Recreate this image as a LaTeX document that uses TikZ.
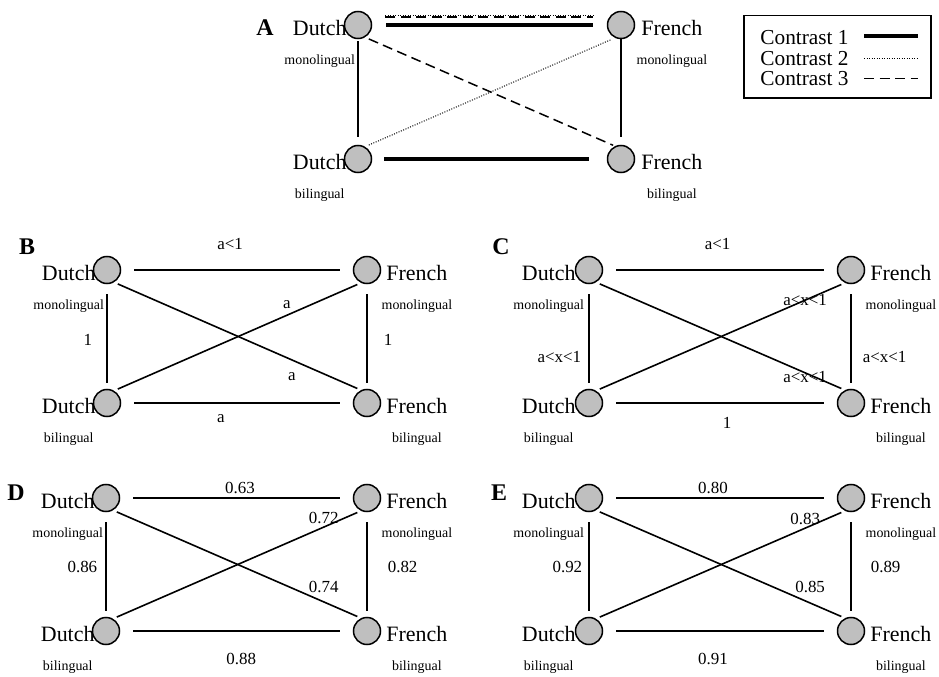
\documentclass[tikz,border=0pt]{standalone}
\usepackage{fontspec}
\setmainfont{Liberation Serif}
\usetikzlibrary{positioning}
\tikzset{
    % group circle
    grp/.style={
        circle, draw=black, line width=0.75bp,
        fill=black!25,
        minimum size=13.5bp,
        inner sep=0pt,
    },
    % Dutch / French
    langlabel/.style={
        font=\fontsize{11}{13}\selectfont,
        inner sep=0pt,
    },
    % monolingual / bilingual
    grouplabel/.style={
        font=\fontsize{7}{8}\selectfont,
        inner sep=0pt,
    },
    % values on the links
    weightlabel/.style={
        font=\fontsize{8.5}{10}\selectfont,
        inner sep=0pt,
    },
    % panel letter
    panellabel/.style={
        font=\fontsize{12}{14}\selectfont\bfseries,
        inner sep=0pt,
    },
    % links between groups
    link/.style={line width=0.8bp},
    hlink/.style={link, shorten <=6.5bp, shorten >=6.5bp},
    vlink/.style={link, shorten <=5bp, shorten >=3bp},
    dlink/.style={link, shorten <=2bp, shorten >=2bp},
    % contrasts (panel A)
    contrastone/.style={line width=2bp},
    contrasttwo/.style={line width=0.5bp, dash pattern=on 0.5bp off 0.75bp},
    contrastthree/.style={line width=0.75bp, dash pattern=on 5bp off 2.75bp},
    legendtext/.style={
        font=\fontsize{10.7}{12}\selectfont,
        inner sep=0pt,
    },
}

\begin{document}
\begin{tikzpicture}[x=0.5bp, y=-0.5bp]
\useasboundingbox (0,0) rectangle (939,677);

% =========================================================================
% PANEL A (contrasts)
% =========================================================================
\node[panellabel] (labA) at (265,28) {A};
\node[grp] (dmA) at (358,25) {};
\node[grp] (fmA) at (621,25) {};
\node[grp] (dbA) at (358,159) {};
\node[grp] (fbA) at (621,159) {};
\node[langlabel, left=0.5bp of dmA.south west, anchor=base east] (dmAt) {Dutch};
\node[langlabel, right=5bp of fmA.south east, anchor=base west] (fmAt) {French};
\node[langlabel, left=0.5bp of dbA.south west, anchor=base east] (dbAt) {Dutch};
\node[langlabel, right=5bp of fbA.south east, anchor=base west] (fbAt) {French};
\node[grouplabel, below=9.5bp of dmAt] {monolingual};
\node[grouplabel, below=9.5bp of fmAt] {monolingual};
\node[grouplabel, below=9.5bp of dbAt] {bilingual};
\node[grouplabel, below=9.5bp of fbAt] {bilingual};

\draw[link, shorten <=1bp, shorten >=4bp] (dmA) -- (dbA);
\draw[link, shorten >=4bp] (fmA) -- (fbA);
\draw[contrastthree, shorten <=2bp, shorten >=1bp] (dmA.-60) -- (fbA.115);
\draw[contrasttwo, shorten <=2bp, shorten >=2bp] (dbA.60) -- (fmA.245);

% Contrast 1 twice, contrast 2 and 3 on top
\draw[contrastone, shorten <=7bp, shorten >=7bp] (dmA) -- (fmA);
\draw[contrasttwo, shorten <=6.5bp, shorten >=6.5bp] ([yshift=4.7bp]dmA.east) -- ([yshift=4.7bp]fmA.west);
\draw[contrastthree, shorten <=6.5bp, shorten >=7bp] ([yshift=3.9bp]dmA.east) -- ([yshift=3.9bp]fmA.west);
\draw[contrastone, shorten <=6bp, shorten >=9bp] (dbA) -- (fbA);

% --- Legend ---
\node[draw, line width=0.75bp, minimum width=93.5bp, minimum height=41bp,
      anchor=north west, inner sep=0pt] (legend) at (743,15) {};
\node[legendtext, anchor=west] (con1) at (760,38) {Contrast 1};
\node[legendtext, below=2.6bp of con1] (con2) {Contrast 2};
\node[legendtext, below=2.6bp of con2] (con3) {Contrast 3};
\draw[contrastone] ([xshift=7.5bp, yshift=1bp]con1.east) -- ++(27bp,0);
\draw[contrasttwo] ([xshift=7.5bp]con2.east) -- ++(27bp,0);
\draw[contrastthree] ([xshift=7.5bp]con3.east) -- ++(27bp,0);

% =========================================================================
% PANEL B
% =========================================================================
\node[panellabel] (labB) at (27,247) {B};
\node[grp] (dmB) at (107,270) {};
\node[grp] (fmB) at (367,270) {};
\node[grp] (dbB) at (107,403) {};
\node[grp] (fbB) at (367,403) {};
\node[langlabel, left=0.5bp of dmB.south west, anchor=base east] (dmBt) {Dutch};
\node[langlabel, right=4.5bp of fmB.south east, anchor=base west] (fmBt) {French};
\node[langlabel, left=0.5bp of dbB.south west, anchor=base east] (dbBt) {Dutch};
\node[langlabel, right=4.5bp of fbB.south east, anchor=base west] (fbBt) {French};
\node[grouplabel, below=9.5bp of dmBt] {monolingual};
\node[grouplabel, below=9.5bp of fmBt] {monolingual};
\node[grouplabel, below=9.5bp of dbBt] {bilingual};
\node[grouplabel, below=9.5bp of fbBt] {bilingual};

\draw[hlink] (dmB) -- node[weightlabel, pos=0.47, above=10bp] {a<1} (fmB);
\draw[vlink] (dmB) -- node[weightlabel, pos=0.53, left=7bp] {1} (dbB);
\draw[vlink] (fmB) -- node[weightlabel, pos=0.53, right=8bp] {1} (fbB);
\draw[dlink] (dbB.60) -- node[weightlabel, pos=0.70, above=3bp] {a} (fmB.245);
\draw[dlink] (dmB.-60) -- node[weightlabel, pos=0.72, below=6bp] {a} (fbB.115);
\draw[hlink] (dbB) -- node[weightlabel, pos=0.43, below=5.5bp] {a} (fbB);

% =========================================================================
% PANEL C
% =========================================================================
\node[panellabel] (labC) at (501,247) {C};
\node[grp] (dmC) at (589,270) {};
\node[grp] (fmC) at (851,270) {};
\node[grp] (dbC) at (589,403) {};
\node[grp] (fbC) at (851,403) {};
\node[langlabel, left=1.5bp of dmC.south west, anchor=base east] (dmCt) {Dutch};
\node[langlabel, right=4.5bp of fmC.south east, anchor=base west] (fmCt) {French};
\node[langlabel, left=1.5bp of dbC.south west, anchor=base east] (dbCt) {Dutch};
\node[langlabel, right=4.5bp of fbC.south east, anchor=base west] (fbCt) {French};
\node[grouplabel, below=9.5bp of dmCt] {monolingual};
\node[grouplabel, below=9.5bp of fmCt] {monolingual};
\node[grouplabel, below=9.5bp of dbCt] {bilingual};
\node[grouplabel, below=9.5bp of fbCt] {bilingual};

\draw[hlink] (dmC) -- node[weightlabel, pos=0.49, above=10bp] {a<1} (fmC);
\draw[vlink] (dmC) -- node[weightlabel, pos=0.70, left=3.5bp] {a<x<1} (dbC);
\draw[vlink] (fmC) -- node[weightlabel, pos=0.70, right=5.5bp] {a<x<1} (fbC);
\draw[dlink] (dbC.60) -- node[weightlabel, pos=0.84] {a<x<1} (fmC.245);
\draw[dlink] (dmC.-60) -- node[weightlabel, pos=0.84, yshift=-2bp] {a<x<1} (fbC.115);
\draw[hlink] (dbC) -- node[weightlabel, pos=0.53, below=7bp] {1} (fbC);

% =========================================================================
% PANEL D
% =========================================================================
\node[panellabel] (labD) at (16,493) {D};
\node[grp] (dmD) at (106,498) {};
\node[grp] (fmD) at (367,498) {};
\node[grp] (dbD) at (106,631) {};
\node[grp] (fbD) at (367,631) {};
\node[langlabel, left=0.5bp of dmD.south west, anchor=base east] (dmDt) {Dutch};
\node[langlabel, right=4.5bp of fmD.south east, anchor=base west] (fmDt) {French};
\node[langlabel, left=0.5bp of dbD.south west, anchor=base east] (dbDt) {Dutch};
\node[langlabel, right=4.5bp of fbD.south east, anchor=base west] (fbDt) {French};
\node[grouplabel, below=9.5bp of dmDt] {monolingual};
\node[grouplabel, below=9.5bp of fmDt] {monolingual};
\node[grouplabel, below=9.5bp of dbDt] {bilingual};
\node[grouplabel, below=9.5bp of fbDt] {bilingual};

\draw[hlink] (dmD) -- node[weightlabel, pos=0.515, above=1.5bp] {0.63} (fmD);
\draw[vlink] (dmD) -- node[weightlabel, pos=0.52, left=4bp] {0.86} (dbD);
\draw[vlink] (fmD) -- node[weightlabel, pos=0.52, right=10bp] {0.82} (fbD);
\draw[dlink] (dbD.60) -- node[weightlabel, pos=0.85, above=1.5bp] {0.72} (fmD.245);
\draw[dlink] (dmD.-60) -- node[weightlabel, pos=0.85, above=4bp] {0.74} (fbD.115);
\draw[hlink] (dbD) -- node[weightlabel, pos=0.52, below=10.5bp] {0.88} (fbD);

% =========================================================================
% PANEL E
% =========================================================================
\node[panellabel] (labE) at (499,493) {E};
\node[grp] (dmE) at (589,498) {};
\node[grp] (fmE) at (851,498) {};
\node[grp] (dbE) at (589,631) {};
\node[grp] (fbE) at (851,631) {};
\node[langlabel, left=1.5bp of dmE.south west, anchor=base east] (dmEt) {Dutch};
\node[langlabel, right=4.5bp of fmE.south east, anchor=base west] (fmEt) {French};
\node[langlabel, left=1.5bp of dbE.south west, anchor=base east] (dbEt) {Dutch};
\node[langlabel, right=4.5bp of fbE.south east, anchor=base west] (fbEt) {French};
\node[grouplabel, below=9.5bp of dmEt] {monolingual};
\node[grouplabel, below=9.5bp of fmEt] {monolingual};
\node[grouplabel, below=9.5bp of dbEt] {bilingual};
\node[grouplabel, below=9.5bp of fbEt] {bilingual};

\draw[hlink] (dmE) -- node[weightlabel, pos=0.47, above=1.5bp] {0.80} (fmE);
\draw[vlink] (dmE) -- node[weightlabel, pos=0.52, left=3bp] {0.92} (dbE);
\draw[vlink] (fmE) -- node[weightlabel, pos=0.52, right=9.5bp] {0.89} (fbE);
\draw[dlink] (dbE.60) -- node[weightlabel, pos=0.84, above=1.5bp] {0.83} (fmE.245);
\draw[dlink] (dmE.-60) -- node[weightlabel, pos=0.86, above=4.5bp] {0.85} (fbE.115);
\draw[hlink] (dbE) -- node[weightlabel, pos=0.47, below=10.5bp] {0.91} (fbE);

\end{tikzpicture}
\end{document}
